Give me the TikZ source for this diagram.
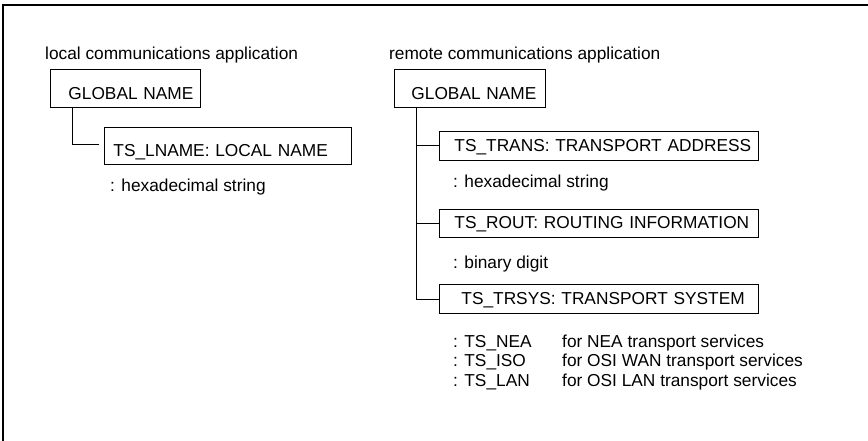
\documentclass[tikz,border=0pt]{standalone}
\usepackage{fontspec}
\setmainfont{Liberation Sans}
\begin{document}
\begin{tikzpicture}[x=1pt,y=-1pt,
  every node/.style={font=\fontsize{17.3}{19.5}\selectfont},
  txt/.style={inner sep=0pt, anchor=base west},
  framebox/.style={draw, line width=0.9pt, inner ysep=0pt, text depth=0pt,
     anchor=north west, align=left},
  conn/.style={line width=0.9pt},
  outer/.style={line width=1.3pt}]
\useasboundingbox (0,0) rectangle (868,441);
\coordinate (fa) at (3,441);
\coordinate (fb) at (3,5);
\coordinate (fc) at (868,5);
\draw[outer] (fa) -- (fb) -- (fc);

% left part
\node[txt] (lt) at (45,60) {local communications application};
\node[framebox, minimum width=150, minimum height=38, text width=114, inner xsep=18, text height=22pt] (lg) at (50,69) {\mbox{GLOBAL NAME}};
\node[framebox, minimum width=247, minimum height=37, text width=229, inner xsep=9, text height=21pt] (ll) at (104,127) {\mbox{TS\_LNAME: LOCAL NAME}};
\node[txt] (lh) at (110,192) {: hexadecimal string};
\coordinate (lc) at (99,144);
\draw[conn] ([xshift=22]lg.south west) |- (lc);

% right part
\node[txt] (rt) at (389,60) {remote communications application};
\node[framebox, minimum width=151, minimum height=38, text width=117, inner xsep=17, text height=22pt] (rg) at (394,69) {\mbox{GLOBAL NAME}};
\node[framebox, minimum width=319, minimum height=29, text width=289, inner xsep=15, text height=11pt] (r1) at (439,131) {\mbox{TS\_TRANS: TRANSPORT ADDRESS}};
\node[txt] (r1h) at (453,188) {: hexadecimal string};
\node[framebox, minimum width=319, minimum height=28, text width=289, inner xsep=15, text height=10pt] (r2) at (439,209) {\mbox{TS\_ROUT: ROUTING INFORMATION}};
\node[txt] (r2h) at (453,268) {: binary digit};
\node[framebox, minimum width=319, minimum height=29, text width=275, inner xsep=22, text height=11pt] (r3) at (439,284) {\mbox{TS\_TRSYS: TRANSPORT SYSTEM}};

\coordinate (rv) at ([xshift=22]rg.south west);
\draw[conn] (rv) |- (r3.west);
\draw[conn] (rv |- r1.west) -- (r1.west);
\draw[conn] (rv |- r2.west) -- (r2.west);

\node[txt] (n1) at (453,347) {: TS\_NEA};
\node[txt] (n2) at (453,366.5) {: TS\_ISO};
\node[txt] (n3) at (453,386) {: TS\_LAN};
\node[txt] (d1) at (562,347) {for NEA transport services};
\node[txt] (d2) at (562,366.5) {for OSI WAN transport services};
\node[txt] (d3) at (562,386) {for OSI LAN transport services};
\end{tikzpicture}
\end{document}
